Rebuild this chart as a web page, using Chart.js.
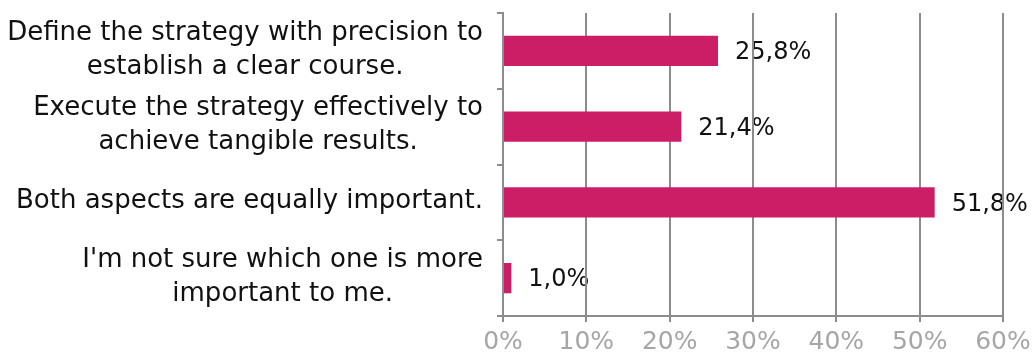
<!DOCTYPE html>
<html>
<head>
<meta charset="utf-8">
<script src="https://cdn.jsdelivr.net/npm/chart.js@4"></script>
<style>
  html, body { margin: 0; padding: 0; background: #fff; }
  #wrap { width: 1035px; height: 353px; position: relative; }
</style>
</head>
<body>
<div id="wrap"><canvas id="chartSurvey"></canvas></div>
<script>
var categories = [
    ['Define the strategy with precision to', 'establish a clear course.'],
    ['Execute the strategy effectively to', 'achieve tangible results.'],
    ['Both aspects are equally important.'],
    ["I'm not sure which one is more", 'important to me.']
];
var values = [25.8, 21.4, 51.8, 1.0];
var tickValues = [0, 10, 20, 30, 40, 50, 60];

var fontFamily = '"DejaVu Sans", sans-serif';
var gridColor = '#8c8c8c';

// draws "25,8%" next to each bar (before the grid, like the original)
var valueLabels = {
    id: 'valueLabels',
    beforeDraw: function (chart) {
        var ctx = chart.ctx;
        var meta = chart.getDatasetMeta(0);
        ctx.save();
        ctx.font = '24px ' + fontFamily;
        ctx.fillStyle = '#111';
        ctx.textAlign = 'left';
        ctx.textBaseline = 'middle';
        meta.data.forEach(function (bar, i) {
            var txt = values[i].toFixed(1).replace('.', ',') + '%';
            ctx.fillText(txt, bar.x + 17, bar.y + 2);
        });
        ctx.restore();
    }
};

// category labels: block right aligned, lines centred inside the block
var categoryLabels = {
    id: 'categoryLabels',
    afterDraw: function (chart) {
        var ctx = chart.ctx;
        var yScale = chart.scales.y;
        var right = yScale.right - 20;
        var lineH = 34;
        ctx.save();
        ctx.font = '26px ' + fontFamily;
        ctx.fillStyle = '#111';
        ctx.textAlign = 'center';
        ctx.textBaseline = 'middle';
        categories.forEach(function (lines, i) {
            var maxW = 0;
            lines.forEach(function (l) { maxW = Math.max(maxW, ctx.measureText(l).width); });
            var cx = right - maxW / 2;
            var cy = yScale.getPixelForValue(i);
            lines.forEach(function (l, j) {
                ctx.fillText(l, cx, cy + (j - (lines.length - 1) / 2) * lineH - 1);
            });
        });
        ctx.restore();
    }
};

function createChart(canvasId) {
    var ctx = document.getElementById(canvasId).getContext('2d');
    return new Chart(ctx, {
        type: 'bar',
        data: {
            labels: categories,
            datasets: [{
                data: values,
                backgroundColor: '#cb1e67',
                borderWidth: 0,
                categoryPercentage: 1,
                barPercentage: 0.4
            }]
        },
        options: {
            indexAxis: 'y',
            responsive: true,
            maintainAspectRatio: false,
            animation: false,
            layout: { padding: { top: 13, right: 32, left: 0, bottom: 0 } },
            plugins: {
                legend: { display: false },
                tooltip: { enabled: false }
            },
            scales: {
                x: {
                    min: 0,
                    max: 60,
                    afterBuildTicks: function (scale) {
                        scale.ticks = tickValues.map(function (v) { return { value: v }; });
                    },
                    afterFit: function (scale) {
                        scale.height = 37;
                        scale.paddingLeft = 0;
                        scale.paddingRight = 0;
                    },
                    grid: {
                        color: gridColor,
                        lineWidth: 2,
                        tickLength: 6
                    },
                    border: { color: gridColor, width: 2 },
                    ticks: {
                        padding: 5,
                        color: '#a6a6a6',
                        font: { family: fontFamily, size: 25 },
                        callback: function (v) { return v + '%'; }
                    }
                },
                y: {
                    afterFit: function (scale) {
                        scale.width = 503;
                        scale.paddingTop = 0;
                        scale.paddingBottom = 0;
                    },
                    grid: {
                        offset: true,
                        drawOnChartArea: false,
                        color: gridColor,
                        lineWidth: 2,
                        tickLength: 6
                    },
                    border: { color: gridColor, width: 2 },
                    ticks: { display: false }
                }
            }
        },
        plugins: [valueLabels, categoryLabels]
    });
}

createChart('chartSurvey');
</script>
</body>
</html>
